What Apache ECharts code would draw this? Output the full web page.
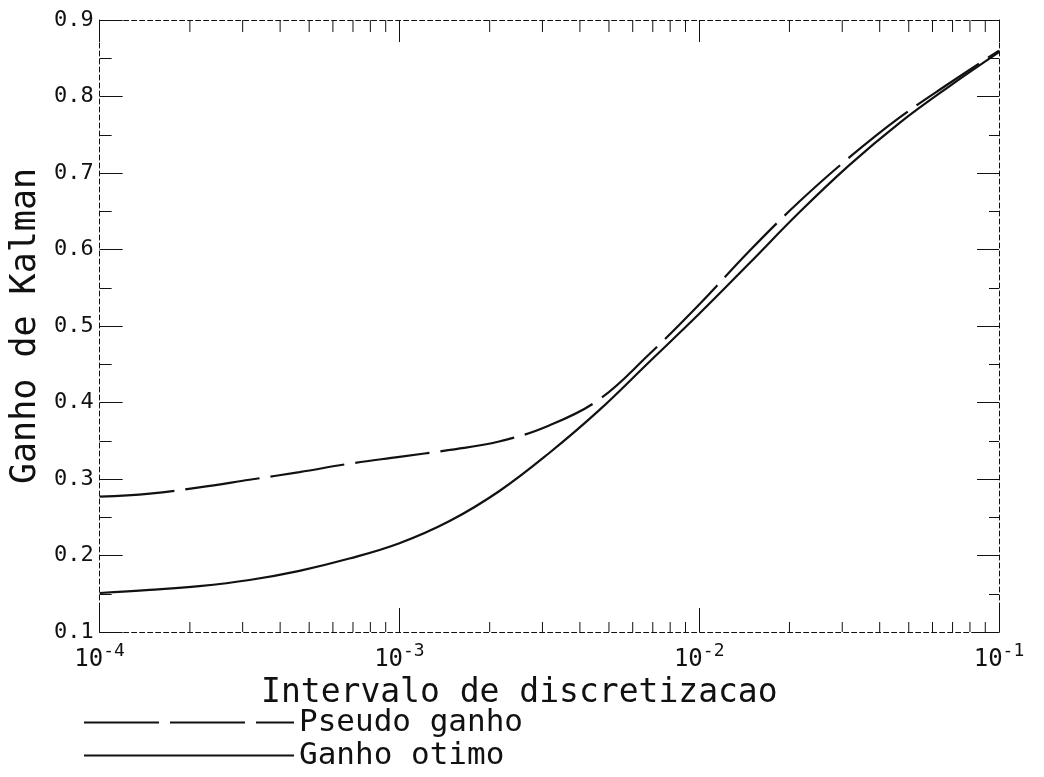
<!DOCTYPE html>
<html>
<head>
<meta charset="utf-8">
<script src="https://cdn.jsdelivr.net/npm/echarts@6/dist/echarts.min.js"></script>
<style>
  html, body { margin: 0; padding: 0; background: #fff; }
  #chart { width: 1044px; height: 777px; }
</style>
</head>
<body>
<div id="chart"></div>
<script>
// values (six readings per decade)
var intervals = [1e-4, 1.47e-4, 2.15e-4, 3.16e-4, 4.64e-4, 6.81e-4,
                 1e-3, 1.47e-3, 2.15e-3, 3.16e-3, 4.64e-3, 6.81e-3,
                 1e-2, 1.47e-2, 2.15e-2, 3.16e-2, 4.64e-2, 6.81e-2, 1e-1];
var pseudoGanho = [0.277, 0.281, 0.289, 0.299, 0.309, 0.320,
                   0.329, 0.338, 0.349, 0.370, 0.404, 0.463,
                   0.528, 0.598, 0.662, 0.720, 0.772, 0.817, 0.860];
var ganhoOtimo = [0.151, 0.155, 0.160, 0.168, 0.180, 0.196,
                  0.216, 0.245, 0.284, 0.334, 0.390, 0.453,
                  0.516, 0.582, 0.648, 0.710, 0.765, 0.813, 0.858];
var minorX = [2e-4, 3e-4, 4e-4, 5e-4, 6e-4, 7e-4, 8e-4, 9e-4,
              2e-3, 3e-3, 4e-3, 5e-3, 6e-3, 7e-3, 8e-3, 9e-3,
              2e-2, 3e-2, 4e-2, 5e-2, 6e-2, 7e-2, 8e-2, 9e-2];
var legendNames = ['Pseudo ganho', 'Ganho otimo'];

var font = '"DejaVu Sans Mono", "Liberation Mono", monospace';
var ink = '#111';

var chart = echarts.init(document.getElementById('chart'));

function pairs(xs, ys) {
  return xs.map(function (x, i) { return [x, ys[i]]; });
}

var frameLine = { show: true, lineStyle: { color: ink, width: 1, type: [5, 3] } };

var option = {
  animation: false,
  backgroundColor: '#fff',
  grid: { left: 96, right: 45, top: 20, bottom: 145 },
  legend: {
    data: legendNames,
    orient: 'vertical',
    left: 83,
    top: 707,
    height: 90,
    padding: 0,
    itemWidth: 210,
    itemHeight: 14,
    itemGap: 2,
    itemStyle: { opacity: 0 },
    textStyle: { fontFamily: font, fontSize: 31, color: ink, lineHeight: 29 }
  },
  xAxis: [
    {
      type: 'log',
      logBase: 10,
      min: 1e-4,
      max: 1e-1,
      position: 'bottom',
      axisLine: frameLine,
      axisTick: { inside: true, length: 24, lineStyle: { color: ink } },
      splitLine: { show: false },
      axisLabel: {
        margin: 10,
        formatter: function (v) {
          var e = Math.round(Math.log(v) / Math.LN10);
          return '{b|10}{s|' + e + '}';
        },
        rich: {
          b: { fontFamily: font, fontSize: 24, color: ink, verticalAlign: 'bottom' },
          s: { fontFamily: font, fontSize: 18, color: ink, verticalAlign: 'bottom', padding: [0, 0, 12, 0] }
        }
      },
      name: 'Intervalo de discretizacao',
      nameLocation: 'middle',
      nameGap: 36,
      nameTextStyle: { fontFamily: font, fontSize: 33, color: ink, padding: [0, 60, 0, 0] }
    },
    {
      type: 'log',
      logBase: 10,
      min: 1e-4,
      max: 1e-1,
      position: 'top',
      axisLine: frameLine,
      axisTick: { inside: true, length: 22, lineStyle: { color: ink } },
      axisLabel: { show: false },
      splitLine: { show: false }
    }
  ],
  yAxis: [
    {
      type: 'value',
      min: 0.1,
      max: 0.9,
      interval: 0.1,
      position: 'left',
      axisLine: frameLine,
      axisTick: { inside: true, length: 23, lineStyle: { color: ink } },
      minorTick: { show: true, splitNumber: 2, length: 12, lineStyle: { color: ink } },
      splitLine: { show: false },
      axisLabel: {
        margin: 6,
        fontFamily: font,
        fontSize: 22,
        color: ink,
        formatter: function (v) { return v.toFixed(1); }
      },
      name: 'Ganho de Kalman',
      nameLocation: 'middle',
      nameGap: 56,
      nameTextStyle: { fontFamily: font, fontSize: 35, color: ink }
    },
    {
      type: 'value',
      min: 0.1,
      max: 0.9,
      interval: 0.1,
      position: 'right',
      axisLine: frameLine,
      axisTick: { inside: true, length: 22, lineStyle: { color: ink } },
      minorTick: { show: true, splitNumber: 2, length: 10, lineStyle: { color: ink } },
      splitLine: { show: false },
      axisLabel: { show: false }
    }
  ],
  series: [
    {
      name: 'Pseudo ganho',
      type: 'line',
      smooth: 0.4,
      symbol: 'none',
      data: pairs(intervals, pseudoGanho),
      lineStyle: { color: ink, width: 2.2, type: [75, 11] }
    },
    {
      name: 'Ganho otimo',
      type: 'line',
      smooth: 0.4,
      symbol: 'none',
      data: pairs(intervals, ganhoOtimo),
      lineStyle: { color: ink, width: 2.2 }
    },
    {
      // minor decade ticks on bottom and top frame
      type: 'custom',
      silent: true,
      data: minorX.map(function (x) { return [x]; }),
      renderItem: function (params, api) {
        var b = api.coord([api.value(0), 0.1]);
        var t = api.coord([api.value(0), 0.9]);
        var st = { stroke: ink, lineWidth: 1 };
        return {
          type: 'group',
          children: [
            { type: 'line', shape: { x1: b[0], y1: b[1], x2: b[0], y2: b[1] - 10 }, style: st },
            { type: 'line', shape: { x1: t[0], y1: t[1], x2: t[0], y2: t[1] + 12 }, style: st }
          ]
        };
      }
    }
  ]
};

chart.setOption(option);
</script>
</body>
</html>
